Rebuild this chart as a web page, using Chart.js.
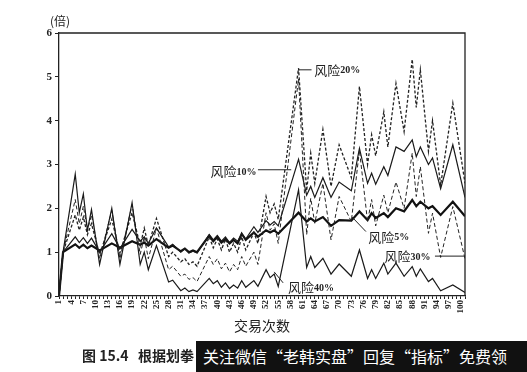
<!DOCTYPE html>
<html>
<head>
<meta charset="utf-8">
<script src="https://cdn.jsdelivr.net/npm/chart.js@4.4.1/dist/chart.umd.min.js"></script>
<style>
  html, body { margin: 0; padding: 0; background: #fff; }
  #wrap { position: relative; width: 527px; height: 372px; overflow: hidden; }
  #chart { position: absolute; left: 0; top: 0; }
  #caption { position: absolute; left: 82px; top: 345px; font: bold 14px 'Noto Sans CJK SC'; color: #222; white-space: nowrap; }
  #banner { position: absolute; left: 196px; top: 341px; width: 331px; height: 31px; background: #111; color: #fff;
            font: 16px 'Noto Sans CJK SC'; line-height: 31px; padding-left: 7px; box-sizing: border-box; white-space: nowrap; }
</style>
</head>
<body>
<div id="wrap">
  <canvas id="chart" width="527" height="372"></canvas>
  <div id="caption">图 15.4&nbsp;&nbsp; 根据划拳</div>
  <div id="banner">关注微信“老韩实盘”回复“指标”免费领</div>
</div>
<script>
// trade numbers where the curves turn
var trades = [1, 2, 5, 6, 7, 8, 9, 11, 14, 16, 19, 21, 22, 23, 25, 28, 29, 31, 32, 33, 34, 35,
  38, 39, 40, 41, 42, 43, 44, 45, 46, 47, 49, 50, 52, 53, 54, 55, 60, 62, 63, 64, 66, 68, 70,
  73, 75, 77, 78, 79, 81, 82, 84, 86, 88, 89, 90, 92, 93, 95, 98, 101];

var risk5 = [0, 1, 1.18, 1.1, 1.17, 1.09, 1.15, 1.04, 1.2, 1.1, 1.25, 1.17, 1.22, 1.15, 1.3, 1.1, 1.15, 1.02, 1.08, 1.0, 1.04, 1.0,
  1.38, 1.25, 1.35, 1.22, 1.3, 1.2, 1.28, 1.2, 1.42, 1.28, 1.45, 1.35, 1.5, 1.45, 1.5, 1.42, 1.9, 1.7, 1.77, 1.7, 1.8, 1.6, 1.73,
  1.72, 1.93, 1.73, 1.89, 1.78, 1.89, 1.8, 2.0, 1.93, 2.19, 2.05, 2.15, 2.0, 2.05, 1.85, 2.15, 1.82];

var risk10 = [0, 1, 1.35, 1.22, 1.33, 1.2, 1.32, 1.0, 1.42, 1.08, 1.52, 1.25, 1.35, 1.2, 1.55, 1.12, 1.18, 1.0, 1.08, 0.98, 1.02, 0.98,
  1.4, 1.28, 1.38, 1.25, 1.35, 1.22, 1.32, 1.25, 1.42, 1.3, 1.58, 1.45, 1.72, 1.62, 1.7, 1.6, 3.12, 2.3, 2.5, 2.25, 2.7, 2.25, 2.6,
  2.4, 3.37, 2.57, 2.8, 2.55, 2.95, 2.75, 3.4, 3.3, 3.56, 3.18, 3.4, 3.0, 3.15, 2.45, 3.45, 2.25];

var risk20 = [0, 1, 1.85, 1.5, 1.8, 1.4, 1.65, 0.95, 1.75, 0.98, 1.9, 1.15, 1.55, 1.15, 1.77, 0.9, 1.0, 0.78, 0.85, 0.72, 0.78, 0.68,
  1.35, 1.1, 1.3, 1.05, 1.3, 1.0, 1.2, 1.0, 1.35, 1.05, 1.45, 1.2, 2.27, 1.9, 2.1, 1.75, 5.2, 2.4, 3.26, 2.57, 3.8, 2.5, 3.45,
  2.7, 4.78, 3.0, 3.68, 3.2, 4.2, 3.4, 4.85, 3.75, 5.4, 4.3, 5.16, 3.3, 4.0, 2.53, 4.4, 2.57];

var risk30 = [0, 1, 2.2, 1.65, 2.05, 1.5, 1.85, 0.85, 1.95, 0.85, 2.08, 0.95, 1.35, 0.85, 1.55, 0.6, 0.68, 0.45, 0.5, 0.38, 0.42, 0.33,
  0.9, 0.72, 0.85, 0.62, 0.75, 0.55, 0.72, 0.6, 0.9, 0.68, 1.0, 0.72, 1.9, 1.5, 1.65, 1.2, 4.95, 1.4, 2.23, 1.66, 2.57, 1.28, 2.27,
  1.7, 3.33, 1.7, 2.2, 1.6, 2.3, 1.9, 2.6, 2.0, 3.26, 2.27, 2.95, 1.43, 1.89, 0.88, 2.04, 0.85];

var risk40 = [0, 1, 2.78, 1.9, 2.33, 1.5, 1.97, 0.72, 2.0, 0.72, 2.13, 0.72, 1.0, 0.6, 1.15, 0.32, 0.36, 0.12, 0.18, 0.1, 0.14, 0.1,
  0.4, 0.28, 0.35, 0.2, 0.3, 0.17, 0.25, 0.18, 0.35, 0.2, 0.35, 0.22, 0.6, 0.42, 0.5, 0.22, 2.42, 0.65, 0.9, 0.65, 0.86, 0.5, 0.73,
  0.45, 1.05, 0.4, 0.6, 0.4, 0.75, 0.5, 0.75, 0.45, 0.67, 0.45, 0.62, 0.33, 0.4, 0.12, 0.25, 0.08];

var xTickLabels = [1, 4, 7, 10, 13, 16, 19, 22, 25, 28, 31, 34, 37, 40, 43, 46, 49, 52, 55, 58, 61, 64, 67, 70,
  73, 76, 79, 82, 85, 88, 91, 94, 97, 100];
var yTicks = [0, 1, 2, 3, 4, 5, 6];

var tradeTicks = [];
for (var i = 1; i <= 101; i++) tradeTicks.push(i);

function pts(values) {
  return trades.map(function(t, i) { return { x: t, y: values[i] }; });
}

// series labels drawn on the plot, placed in data units
var notes = [
  { pct: '20%', t: 63.9, v: 5.16, lead: [[60, 5.16], [63.2, 5.16]] },
  { pct: '10%', t: 38.3, v: 2.85, lead: [[50, 2.88], [58.2, 2.88]] },
  { pct: '5%',  t: 77.2, v: 1.35, lead: [[76.6, 1.47], [73.2, 1.8]] },
  { pct: '30%', t: 81.2, v: 0.9,  lead: [[93.6, 0.91], [100.8, 0.91]] },
  { pct: '40%', t: 57.4, v: 0.2,  lead: [[56.2, 0.3], [54, 0.55]] }
];

var decor = {
  id: 'decor',
  afterDatasetsDraw: function(chart) {
    var ctx = chart.ctx, a = chart.chartArea;
    var xs = chart.scales.x, ys = chart.scales.y;
    ctx.save();
    ctx.strokeStyle = '#222';
    ctx.lineWidth = 1.3;
    ctx.beginPath();
    ctx.moveTo(a.left, a.top);
    ctx.lineTo(a.right, a.top);
    ctx.lineTo(a.right, a.bottom);
    ctx.stroke();

    ctx.fillStyle = '#222';
    ctx.font = "12px 'Noto Sans CJK SC'";
    ctx.textBaseline = 'middle';
    ctx.fillText('(倍)', a.left - 9, a.top - 12);

    notes.forEach(function(n) {
      ctx.lineWidth = 1;
      ctx.beginPath();
      ctx.moveTo(xs.getPixelForValue(n.lead[0][0]), ys.getPixelForValue(n.lead[0][1]));
      ctx.lineTo(xs.getPixelForValue(n.lead[1][0]), ys.getPixelForValue(n.lead[1][1]));
      ctx.stroke();
      var px = xs.getPixelForValue(n.t), py = ys.getPixelForValue(n.v);
      ctx.font = "13px 'Noto Sans CJK SC'";
      ctx.fillText('风险', px, py);
      var w = ctx.measureText('风险').width;
      ctx.font = "bold 10px 'Liberation Serif'";
      ctx.fillText(n.pct, px + w, py + 1);
    });
    ctx.restore();
  }
};

var ctx = document.getElementById('chart').getContext('2d');
var chart = new Chart(ctx, {
  type: 'line',
  data: {
    datasets: [
      { label: '风险40%', data: pts(risk40), borderColor: '#1a1a1a', borderWidth: 1.2 },
      { label: '风险30%', data: pts(risk30), borderColor: '#222', borderWidth: 1, borderDash: [4, 2.5] },
      { label: '风险20%', data: pts(risk20), borderColor: '#222', borderWidth: 1.3, borderDash: [3, 2] },
      { label: '风险10%', data: pts(risk10), borderColor: '#1a1a1a', borderWidth: 1.2 },
      { label: '风险5%', data: pts(risk5), borderColor: '#111', borderWidth: 2.2 }
    ]
  },
  options: {
    responsive: false,
    animation: false,
    elements: { point: { radius: 0 }, line: { tension: 0 } },
    layout: { padding: { left: 0, top: 33, right: 62, bottom: 32 } },
    plugins: { legend: { display: false }, tooltip: { enabled: false } },
    scales: {
      x: {
        type: 'linear', min: 1, max: 101,
        afterBuildTicks: function(axis) { axis.ticks = tradeTicks.map(function(v) { return { value: v }; }); },
        afterFit: function(s) { s.height = 44; },
        grid: { drawOnChartArea: false, tickLength: 3, color: '#222' },
        border: { color: '#222', width: 1.3 },
        ticks: {
          autoSkip: false, minRotation: 90, maxRotation: 90, padding: 1, color: '#222',
          font: { family: 'Liberation Serif', size: 9, weight: 'bold' },
          callback: function(v) { return xTickLabels.indexOf(v) >= 0 ? String(v) : ''; }
        },
        title: { display: true, text: '交易次数', color: '#222',
                 font: { family: 'Noto Sans CJK SC', size: 14 }, padding: { top: 0, bottom: 6 } }
      },
      y: {
        min: 0, max: 6,
        afterBuildTicks: function(axis) { axis.ticks = yTicks.map(function(v) { return { value: v }; }); },
        afterFit: function(s) { s.width = 59; },
        grid: { drawOnChartArea: false, tickLength: 4, color: '#222' },
        border: { color: '#222', width: 1.3 },
        ticks: { padding: 3, color: '#222', font: { family: 'Liberation Serif', size: 11, weight: 'bold' } }
      }
    }
  },
  plugins: [decor]
});
</script>
</body>
</html>
